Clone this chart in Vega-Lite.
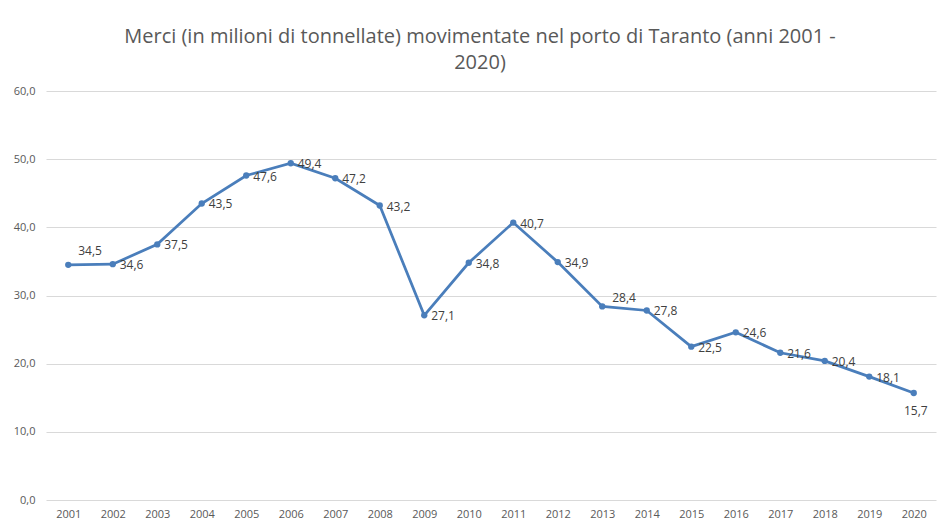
{
  "$schema": "https://vega.github.io/schema/vega-lite/v6.json",
  "width": 890,
  "height": 409,
  "autosize": {"type": "none"},
  "padding": {"left": 46, "top": 91, "right": 1, "bottom": 20},
  "background": "white",
  "config": {
    "locale": {"number": {"decimal": ",", "thousands": ".", "grouping": [3], "currency": ["€", ""]}},
    "view": {"stroke": null},
    "font": "Open Sans"
  },
  "title": {
    "text": ["Merci (in milioni di tonnellate) movimentate nel porto di Taranto (anni 2001 -", "2020)"],
    "fontSize": 20,
    "fontWeight": "normal",
    "color": "#595959",
    "font": "Open Sans",
    "anchor": "middle",
    "dx": -11,
    "offset": 12,
    "lineHeight": 26
  },
  "data": {
    "values": [
      {"anno": "2001", "merci": 34.5},
      {"anno": "2002", "merci": 34.6},
      {"anno": "2003", "merci": 37.5},
      {"anno": "2004", "merci": 43.5},
      {"anno": "2005", "merci": 47.6},
      {"anno": "2006", "merci": 49.4},
      {"anno": "2007", "merci": 47.2},
      {"anno": "2008", "merci": 43.2},
      {"anno": "2009", "merci": 27.1},
      {"anno": "2010", "merci": 34.8},
      {"anno": "2011", "merci": 40.7},
      {"anno": "2012", "merci": 34.9},
      {"anno": "2013", "merci": 28.4},
      {"anno": "2014", "merci": 27.8},
      {"anno": "2015", "merci": 22.5},
      {"anno": "2016", "merci": 24.6},
      {"anno": "2017", "merci": 21.6},
      {"anno": "2018", "merci": 20.4},
      {"anno": "2019", "merci": 18.1},
      {"anno": "2020", "merci": 15.7}
    ]
  },
  "encoding": {
    "x": {
      "field": "anno",
      "type": "ordinal",
      "scale": {"type": "point", "padding": 0.5},
      "axis": {
        "title": null,
        "labelAngle": 0,
        "domain": false,
        "ticks": false,
        "labelColor": "#595959",
        "labelFontSize": 11,
        "labelPadding": 8,
        "labelFont": "Open Sans"
      }
    },
    "y": {
      "field": "merci",
      "type": "quantitative",
      "scale": {"domain": [0, 60]},
      "axis": {
        "title": null,
        "values": [0, 10, 20, 30, 40, 50, 60],
        "format": ".1f",
        "domain": false,
        "ticks": false,
        "labelColor": "#595959",
        "labelFontSize": 11,
        "labelPadding": 11,
        "labelFont": "Open Sans",
        "gridColor": "#d9d9d9",
        "gridWidth": 1
      }
    }
  },
  "layer": [
    {
      "mark": {"type": "line", "color": "#4a7ebb", "strokeWidth": 2.75}
    },
    {
      "mark": {"type": "point", "filled": true, "color": "#4a7ebb", "size": 40, "opacity": 1}
    },
    {
      "transform": [{"filter": "datum.anno != '2001' && datum.anno != '2013' && datum.anno != '2020'"}],
      "mark": {"type": "text", "align": "left", "baseline": "middle", "dx": 7, "dy": 1, "fontSize": 12, "color": "#404040", "font": "Open Sans"},
      "encoding": {"text": {"field": "merci", "type": "quantitative", "format": ".1f"}}
    },
    {
      "transform": [{"filter": "datum.anno == '2001'"}],
      "mark": {"type": "text", "align": "left", "baseline": "middle", "dx": 10, "dy": -14, "fontSize": 12, "color": "#404040", "font": "Open Sans"},
      "encoding": {"text": {"field": "merci", "type": "quantitative", "format": ".1f"}}
    },
    {
      "transform": [{"filter": "datum.anno == '2013'"}],
      "mark": {"type": "text", "align": "left", "baseline": "middle", "dx": 10, "dy": -8, "fontSize": 12, "color": "#404040", "font": "Open Sans"},
      "encoding": {"text": {"field": "merci", "type": "quantitative", "format": ".1f"}}
    },
    {
      "transform": [{"filter": "datum.anno == '2020'"}],
      "mark": {"type": "text", "align": "center", "baseline": "middle", "dx": 2, "dy": 18, "fontSize": 12, "color": "#404040", "font": "Open Sans"},
      "encoding": {"text": {"field": "merci", "type": "quantitative", "format": ".1f"}}
    }
  ]
}
